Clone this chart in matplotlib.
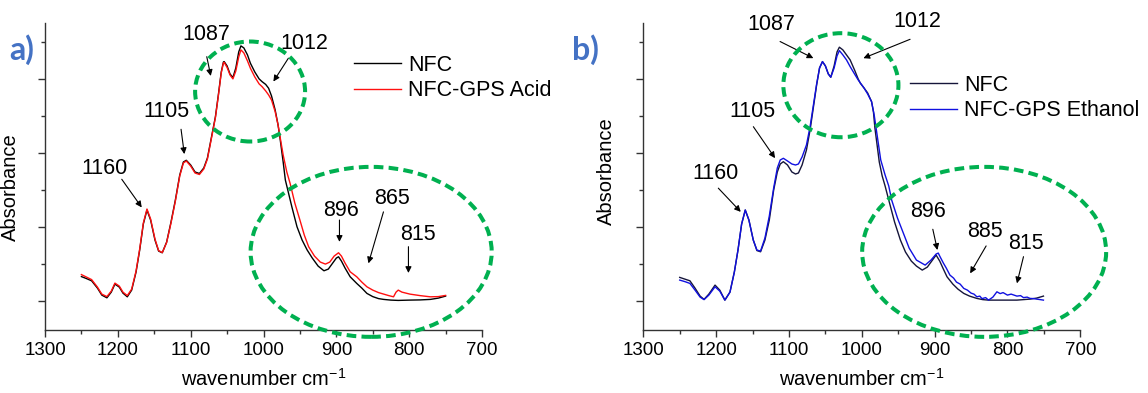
import numpy as np
import matplotlib
matplotlib.use("Agg")
import matplotlib.pyplot as plt
from matplotlib.patches import Ellipse
from matplotlib.ticker import MultipleLocator

plt.rcParams["font.family"] = ["Liberation Sans", "DejaVu Sans"]

# ---- data (wavenumber, absorbance in arbitrary units) ----
# panel a
a_nfc_wn = [1250, 1243, 1236, 1228, 1222, 1215, 1209, 1204, 1198, 1193, 1187, 1181, 1175, 1170, 1165,
            1160, 1155, 1149, 1144, 1139, 1133, 1127, 1121, 1115, 1110, 1106, 1100, 1094, 1088, 1082,
            1077, 1073, 1069, 1066, 1062, 1058, 1055, 1054, 1050, 1046, 1042, 1038, 1034, 1031, 1027,
            1022, 1018, 1012, 1006, 1002, 997, 993, 989, 984, 980, 977, 973, 970, 966, 961, 954, 947,
            940, 933, 925, 917, 911, 905, 900, 897, 893, 888, 881, 872, 865, 858, 850, 842, 835, 825,
            815, 800, 785, 771, 760, 750]
a_nfc_px = [276.5, 278.5, 280.7, 288, 295, 297.7, 292, 284, 287, 293, 296.7, 290, 272, 250, 224,
            210, 220, 240, 251, 252.7, 242, 222, 200, 175, 162, 160.3, 165, 172, 173.5, 168,
            158, 143, 128, 116.7, 95, 72, 62, 61.7, 66, 74, 77.7, 68, 52, 46, 48,
            55, 63.3, 72, 79, 81.7, 84.5, 88.3, 96, 110, 125, 140, 162, 180, 192, 207, 226.7, 240,
            250, 258, 266, 270.7, 269, 263, 258, 256.7, 261, 268, 276.7, 283.3, 288, 293.3, 296.5, 298.5, 299.3, 300,
            300.3, 300, 299.8, 299.3, 298, 296]

a_gps_wn = [1250, 1243, 1236, 1228, 1222, 1215, 1209, 1204, 1198, 1193, 1187, 1181, 1175, 1170, 1165,
            1160, 1155, 1149, 1144, 1139, 1133, 1127, 1121, 1115, 1110, 1106, 1100, 1094, 1088, 1082,
            1077, 1073, 1069, 1066, 1062, 1058, 1055, 1054, 1050, 1046, 1042, 1038, 1034, 1031, 1027,
            1022, 1018, 1012, 1006, 1002, 997, 993, 989, 984, 980, 977, 973, 968, 963.5, 957, 950, 944,
            938, 930, 922, 915, 909, 903, 897, 893, 888, 881, 872, 865, 858, 850, 842, 835, 828, 821.5,
            818, 815, 810, 799, 785, 771, 760, 750]
a_gps_px = [274.5, 277, 279.5, 287, 294, 296.5, 291, 283, 286, 292, 295.5, 289, 271, 249, 223,
            209, 219, 239, 250.5, 252.5, 242.5, 223, 201, 176, 163, 161, 166, 173, 174.5, 169,
            159, 144, 129, 117.5, 96, 73, 63, 62.5, 67.5, 75, 79, 71, 57, 50, 53,
            61, 68.3, 77, 84, 86.7, 91, 95, 100, 111.7, 125, 138, 155, 172, 183.3, 203, 220, 235,
            246.7, 256, 262, 264, 262, 256, 252.7, 256, 263, 271.7, 276.7, 282, 286.7, 290, 292.5, 294, 295.5, 296.7,
            292, 290, 292, 294, 295.5, 296.7, 296.5, 295.3]

# panel b
b_nfc_wn = [1250, 1243, 1236, 1229, 1222, 1216.6, 1210, 1201.5, 1195, 1188, 1181, 1175, 1170, 1165,
            1160, 1155, 1149, 1144, 1139, 1133, 1127, 1121, 1116, 1112, 1107.7, 1102, 1096, 1091, 1087,
            1082, 1076, 1071, 1066, 1062, 1058, 1054, 1050, 1046, 1042.6, 1038, 1034, 1030.8, 1026, 1021,
            1016, 1010, 1005, 1002, 997, 992, 986.6, 984, 982, 979, 976, 972, 968, 963, 955, 947, 940,
            932, 925, 917, 910, 904, 898, 893, 888, 883, 875, 868, 860, 852, 842, 834, 826, 815, 800,
            787, 769, 760, 750.6]
b_nfc_px = [277.3, 279, 280.7, 288, 296, 299.3, 294, 285, 290, 300, 292, 272, 250, 224,
            210, 220, 240, 250.5, 251.7, 240, 220, 190, 172, 164, 161.7, 165, 172, 174, 173,
            165, 150, 130, 105, 85, 68, 61.7, 66, 74, 77.3, 66, 52, 47.3, 50, 55,
            60, 70, 79, 83.3, 88, 93, 101.7, 112, 128, 145, 162, 176, 186, 200, 222, 240, 252,
            261, 266, 270, 267, 261, 255, 261, 269, 276.7, 284, 289, 293.3, 296, 298.3, 299.5, 300, 300, 300,
            300, 299, 298, 296]

b_eth_wn = [1250, 1243, 1236, 1229, 1222, 1216.6, 1210, 1201.5, 1195, 1188, 1181, 1175, 1170, 1165,
            1160, 1155, 1149, 1144, 1139, 1133, 1127, 1121, 1116, 1112, 1107.7, 1102, 1096, 1091, 1087,
            1082, 1076, 1071, 1066, 1062, 1058, 1054, 1050, 1046, 1042.6, 1038, 1034, 1030.8, 1026, 1021,
            1016, 1010, 1005, 1000, 997, 992, 986.6, 983, 980, 977, 974, 968, 963, 959, 951, 943, 935,
            925, 913, 905, 898, 895, 893, 888, 884, 879, 874, 870, 865, 860, 855, 850, 846, 842, 838, 835,
            830, 826, 820, 814.5, 810, 806, 800, 795, 787, 782, 778, 773, 769, 764, 760, 755, 750.6]
b_eth_px = [280, 281.5, 283.3, 290, 297, 299.5, 295, 286.7, 291, 300, 292, 272, 250, 224,
            210, 220, 240, 250, 251, 238, 216, 188, 168, 160, 158.3, 161, 164, 165, 164,
            157, 145, 126.7, 103, 84, 68, 61.7, 66, 74, 77.3, 68, 56, 50.7, 55, 60,
            66.7, 74, 80, 85, 88, 94, 101.7, 115, 130, 145, 160, 175, 186, 200, 218, 233, 248,
            260, 265, 260, 254, 253, 256, 263, 268, 275, 278, 282, 284, 288.3, 290, 293, 294, 296.7, 296, 298.5,
            297.5, 300, 297, 291.7, 293.5, 292.5, 295, 294, 296, 295.5, 297.5, 297, 298.3, 298.5, 299, 299.5, 300]


def to_abs(px):
    # absorbance units (one minor tick = 0.1)
    return (301 - np.array(px)) / 370.0


peaks_a = [("1087", (1079, 0.719), (1077.9, 0.660), (1072.4, 0.608)),
           ("1012", (944, 0.696), (965.8, 0.656), (986.4, 0.593)),
           ("1105", (1132.8, 0.512), (1113.2, 0.464), (1108.7, 0.397)),
           ("1160", (1218.3, 0.357), (1194.6, 0.329), (1167.2, 0.253)),
           ("896", (894, 0.245), (895.7, 0.219), (895.7, 0.160)),
           ("865", (823.8, 0.276), (835.3, 0.241), (855.9, 0.102)),
           ("815", (788.3, 0.181), (801, 0.147), (801, 0.076))]
peaks_b = [("1087", (1123.6, 0.746), (1112.2, 0.701), (1066.5, 0.656)),
           ("1012", (923.4, 0.755), (933.7, 0.707), (997.8, 0.656)),
           ("1105", (1150, 0.512), (1148.9, 0.471), (1119.1, 0.386)),
           ("1160", (1200.8, 0.345), (1197, 0.305), (1166.2, 0.241)),
           ("896", (908.9, 0.241), (902.5, 0.194), (896.2, 0.138)),
           ("885", (831, 0.187), (829.3, 0.149), (851.2, 0.075)),
           ("815", (775, 0.155), (778, 0.120), (787, 0.048))]

# circles round the regions: centre, width, height
circles_a = [((1018.4, 0.566), 151, 0.270), ((852.2, 0.133), 331, 0.459)]
circles_b = [((1028.7, 0.583), 158, 0.281), ((832, 0.133), 335, 0.459)]

W, H = 1148, 393
fig = plt.figure(figsize=(W / 100, H / 100), dpi=100)
ax1 = fig.add_axes([45 / W, 63 / H, 437 / W, 307 / H])
ax2 = fig.add_axes([643.3 / W, 63 / H, 437 / W, 307 / H])

green = "#00B050"


def setup(ax, label_y):
    ax.set_xlim(1300, 700)
    ax.set_ylim(-0.078, 0.751)
    ax.spines["top"].set_visible(False)
    ax.spines["right"].set_visible(False)
    for s in ("left", "bottom"):
        ax.spines[s].set_linewidth(1.0)
        ax.spines[s].set_color("#333333")
    ax.xaxis.set_major_locator(MultipleLocator(100))
    ax.xaxis.set_minor_locator(MultipleLocator(50))
    ax.yaxis.set_major_locator(MultipleLocator(0.2))
    ax.yaxis.set_minor_locator(MultipleLocator(0.1))
    ax.tick_params(which="both", direction="out", colors="#333333", labelcolor="black")
    ax.tick_params(which="major", length=5, width=1.0, labelsize=13.5)
    ax.tick_params(which="minor", length=3, width=1.0)
    ax.tick_params(axis="y", labelleft=False)
    ax.set_xlabel("wavenumber cm$^{\\mathregular{-1}}$", fontsize=14.5)
    ax.xaxis.set_label_coords(0.5, -0.125)
    ax.set_ylabel("Absorbance", fontsize=14.5)
    ax.yaxis.set_label_coords(label_y[0], label_y[1])


def decorate(ax, peaks, circles):
    for txt, tpos, tail, tip in peaks:
        ax.text(tpos[0], tpos[1], txt, fontsize=15.5, ha="center", va="center")
        ax.annotate("", xy=tip, xytext=tail,
                    arrowprops=dict(arrowstyle="-|>", color="black", lw=0.8,
                                    mutation_scale=9, shrinkA=0, shrinkB=0),
                    annotation_clip=False)
    for (cx, cy), w, h in circles:
        ax.add_patch(Ellipse((cx, cy), w, h, fill=False, ec=green, lw=2.9,
                             ls=(0, (2.4, 1.3)), clip_on=False, zorder=5))


setup(ax1, (-0.058, 0.464))
setup(ax2, (-0.063, 0.518))

ax1.plot(a_nfc_wn, to_abs(a_nfc_px), color="black", lw=1.0, label="NFC")
ax1.plot(a_gps_wn, to_abs(a_gps_px), color="#FF1010", lw=1.0, label="NFC-GPS Acid")
ax2.plot(b_nfc_wn, to_abs(b_nfc_px), color="#15153A", lw=1.0, label="NFC")
ax2.plot(b_eth_wn, to_abs(b_eth_px), color="#1010E0", lw=1.0, label="NFC-GPS Ethanol")

decorate(ax1, peaks_a, circles_a)
decorate(ax2, peaks_b, circles_b)

for ax, lx, ly in ((ax1, 354, 55), (ax2, 910, 75)):
    ax.legend(loc="upper left", bbox_to_anchor=(lx / W, 1 - ly / H), bbox_transform=fig.transFigure,
              frameon=False, borderpad=0, borderaxespad=0, handlelength=2.2,
              handletextpad=0.3, labelspacing=0.2, fontsize=15.5)

fig.text(9 / W, 1 - 60 / H, "a)", fontsize=23, fontweight="bold", color="#4472C4",
         family=["Lato", "DejaVu Sans"], va="baseline")
fig.text(572 / W, 1 - 60 / H, "b)", fontsize=23, fontweight="bold", color="#4472C4",
         family=["Lato", "DejaVu Sans"], va="baseline")

fig.savefig("out.png", dpi=100)
